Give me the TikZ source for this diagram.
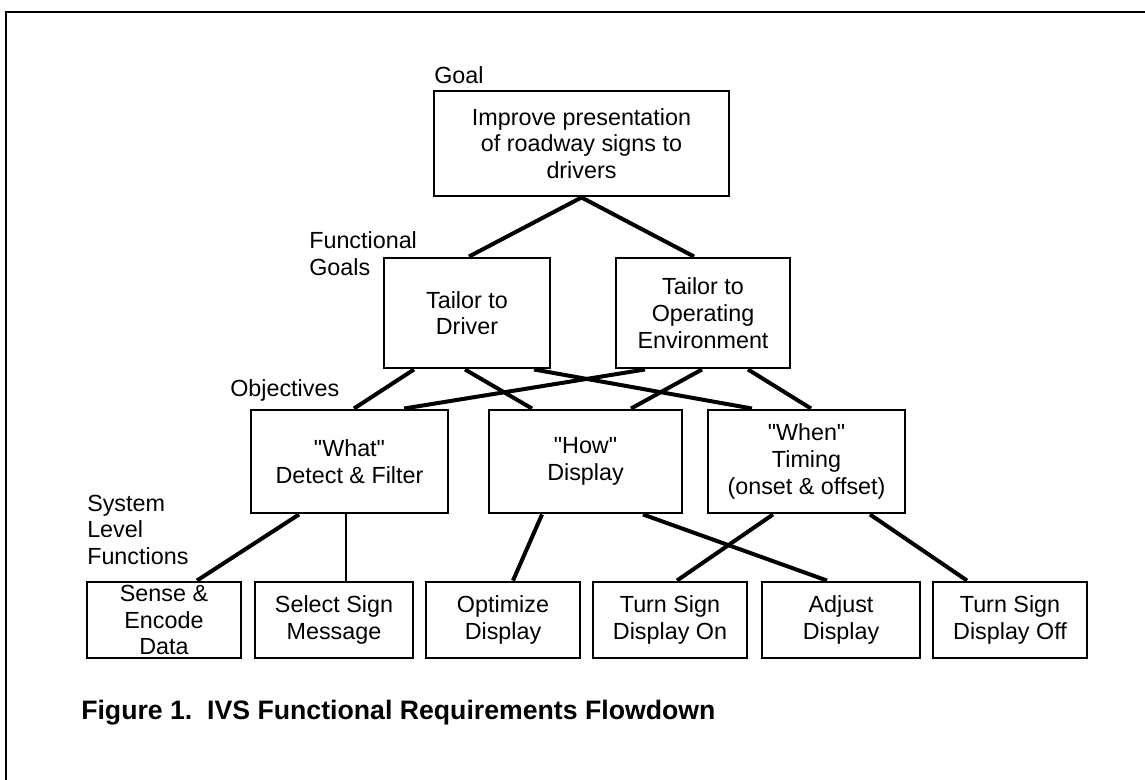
\documentclass[tikz,border=0pt]{standalone}
\usepackage{fontspec}
\setmainfont{Liberation Sans}
\usetikzlibrary{calc}
\begin{document}
\begin{tikzpicture}[x=0.75pt,y=-0.75pt,
  box/.style={draw,line width=2.2pt,align=center,inner sep=0pt,font=\fontsize{17.5}{20}\selectfont},
  lab/.style={anchor=north west,align=left,inner sep=0pt,font=\fontsize{17.5}{20}\selectfont},
  conn/.style={line width=3pt},
  thinconn/.style={line width=1.4pt}]
\useasboundingbox (0,0) rectangle (1145,780);
\coordinate (fr1) at (1145,12);
\coordinate (fr2) at (6,12);
\coordinate (fr3) at (6,780);
\draw[line width=2pt] (fr1) -- (fr2) -- (fr3);
% level 0
\node[box,minimum width=0.75*295pt,minimum height=0.75*105pt] (goal) at (581.5,143.5) {Improve presentation\\of roadway signs to\\drivers};
% level 1
\node[box,minimum width=0.75*166pt,minimum height=0.75*110pt] (drv) at (467,313) {Tailor to\\Driver};
\node[box,minimum width=0.75*174pt,minimum height=0.75*110pt] (env) at (703,313) {Tailor to\\Operating\\Environment};
% level 2
\node[box,minimum width=0.75*197pt,minimum height=0.75*103pt] (what) at (349.5,461.5) {\textquotedbl What\textquotedbl\\Detect \& Filter};
\node[box,minimum width=0.75*193pt,minimum height=0.75*103pt] (how) at (585.5,461.5) {\textquotedbl How\textquotedbl\\Display};
\node[box,minimum width=0.75*197pt,minimum height=0.75*103pt] (when) at (806.5,461.5) {\textquotedbl When\textquotedbl\\Timing\\(onset \& offset)};
% level 3
\node[box,minimum width=0.75*154pt,minimum height=0.75*76pt] (sense) at (164,620) {Sense \&\\Encode\\Data};
\node[box,minimum width=0.75*158pt,minimum height=0.75*76pt] (select) at (334,620) {Select Sign\\Message};
\node[box,minimum width=0.75*154pt,minimum height=0.75*76pt] (opt) at (503,620) {Optimize\\Display};
\node[box,minimum width=0.75*154pt,minimum height=0.75*76pt] (on) at (670,620) {Turn Sign\\Display On};
\node[box,minimum width=0.75*158pt,minimum height=0.75*76pt] (adj) at (841,620) {Adjust\\Display};
\node[box,minimum width=0.75*154pt,minimum height=0.75*76pt] (off) at (1010,620) {Turn Sign\\Display Off};
% labels
\node[lab,anchor=base west] (lgoal) at (434,83.5) {Goal};
\node[lab] (lfg) at (309,231.5) {Functional\\Goals};
\node[lab,anchor=base west] (lobj) at (230,396.5) {Objectives};
\node[lab] (lslf) at (87,494.5) {System\\Level\\Functions};
\node[lab,anchor=base west,font=\bfseries\fontsize{20}{24}\selectfont] (cap) at (81,719.5) {Figure 1.\ \ IVS Functional Requirements Flowdown};
% connectors
\draw[conn] (goal.south) -- ($(drv.north)+(2,0)$);
\draw[conn] (goal.south) -- ($(env.north)+(-9,0)$);
\draw[conn] ($(drv.south)+(-53,0)$) -- ($(what.north)+(4.5,0)$);
\draw[conn] ($(drv.south)+(-2,0)$) -- ($(how.north)+(-53.5,0)$);
\draw[conn] ($(drv.south)+(67,0)$) -- ($(when.north)+(-54.5,0)$);
\draw[conn] ($(env.south)+(-58,0)$) -- ($(what.north)+(54.5,0)$);
\draw[conn] ($(env.south)+(-1,0)$) -- ($(how.north)+(45.5,0)$);
\draw[conn] ($(env.south)+(45,0)$) -- ($(when.north)+(4.5,0)$);
\draw[conn] ($(what.south)+(-50.5,0)$) -- ($(sense.north)+(33,0)$);
\draw[thinconn] ($(what.south)+(-3.5,0)$) -- ($(select.north)+(12,0)$);
\draw[conn] ($(how.south)+(-43.5,0)$) -- ($(opt.north)+(10,0)$);
\draw[conn] ($(how.south)+(57.5,0)$) -- ($(adj.north)+(-14,0)$);
\draw[conn] ($(when.south)+(-33.5,0)$) -- ($(on.north)+(7,0)$);
\draw[conn] ($(when.south)+(63.5,0)$) -- ($(off.north)+(-43,0)$);
\end{tikzpicture}
\end{document}
